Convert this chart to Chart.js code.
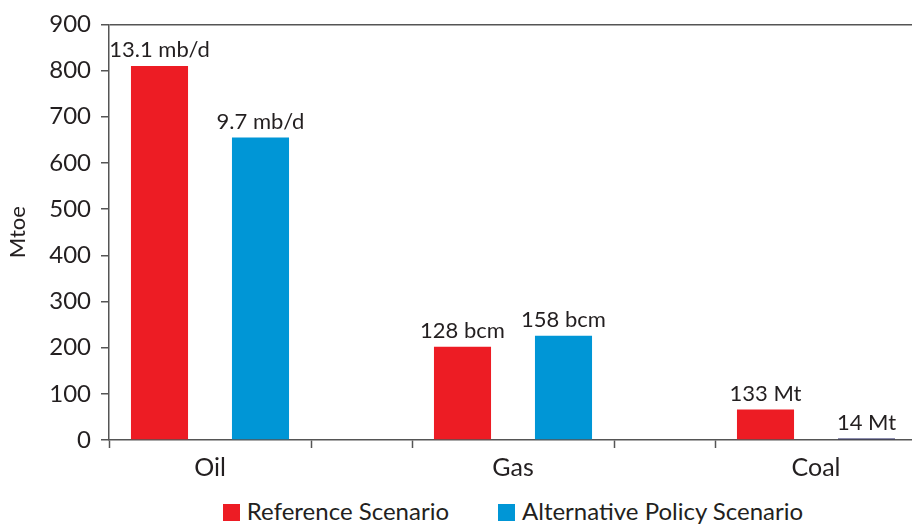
<!DOCTYPE html>
<html lang="en">
<head>
    <meta charset="UTF-8">
    <title>Oil, Gas and Coal Savings</title>
    <script src="https://cdn.jsdelivr.net/npm/chart.js"></script>
    <style>
        html, body { margin: 0; padding: 0; background: #ffffff; overflow: hidden; }
        body { font-family: Lato, "Open Sans", sans-serif; color: #231f20; }
        .wrap { position: relative; width: 920px; height: 525px; }
        .chart-box { position: relative; width: 920px; height: 488px; }
        .legend { position: absolute; left: 0; top: 497px; width: 1026px; display: flex; justify-content: center; gap: 49px; font-size: 24px; line-height: 28px; }
        .legend span.key { display: inline-block; width: 17px; height: 17px; margin-right: 7px; vertical-align: -1px; }
    </style>
</head>
<body>
<div class="wrap">
    <div class="chart-box"><canvas id="fuelChart"></canvas></div>
    <div class="legend" id="legend"></div>
</div>

<script>
    // fuels and Mtoe per scenario
    const fuels = ["Oil", "Gas", "Coal"];
    const referenceMtoe = [810, 202, 66];
    const alternativeMtoe = [655, 226, 3];
    // physical units written above the bars
    const referenceUnits = ["13.1 mb/d", "128 bcm", "133 Mt"];
    const alternativeUnits = ["9.7 mb/d", "158 bcm", "14 Mt"];
    const yTicks = [0, 100, 200, 300, 400, 500, 600, 700, 800, 900];

    const RED = "#ed1c24";
    const BLUE = "#0096d6";
    const AXIS = "#555555";
    const TEXT = "#231f20";

    // each fuel gets two slots (reference, alternative) plus an empty gap slot between fuels
    const slots = [];
    const refData = [], altData = [], refText = [], altText = [], altColors = [];
    fuels.forEach((f, i) => {
        slots.push("", f);
        refData.push(referenceMtoe[i], null);
        altData.push(null, alternativeMtoe[i]);
        refText.push(referenceUnits[i], null);
        altText.push(null, alternativeUnits[i]);
        altColors.push(BLUE, alternativeMtoe[i] < 5 ? "#1d1f5e" : BLUE);
        if (i < fuels.length - 1) {
            slots.push("");
            refData.push(null); altData.push(null);
            refText.push(null); altText.push(null);
            altColors.push(BLUE);
        }
    });
    const hiddenTickSlots = slots.map((s, i) => s !== "" ? i : -1).filter(i => i >= 0);

    const unitLabels = {
        id: "unitLabels",
        afterDatasetsDraw(chart) {
            const ctx = chart.ctx;
            const texts = [refText, altText];
            ctx.save();
            ctx.font = "22px Lato";
            ctx.fillStyle = TEXT;
            ctx.textAlign = "center";
            ctx.textBaseline = "bottom";
            chart.data.datasets.forEach((ds, d) => {
                chart.getDatasetMeta(d).data.forEach((bar, i) => {
                    if (ds.data[i] == null || !texts[d][i]) return;
                    ctx.fillText(texts[d][i], bar.x, bar.y - 5);
                });
            });
            ctx.restore();
        }
    };

    const chart = new Chart(document.getElementById("fuelChart"), {
        type: "bar",
        data: {
            labels: slots,
            datasets: [
                { label: "Reference Scenario", data: refData, backgroundColor: RED },
                { label: "Alternative Policy Scenario", data: altData, backgroundColor: altColors }
            ]
        },
        options: {
            responsive: true,
            maintainAspectRatio: false,
            animation: false,
            grouped: false,
            barPercentage: 0.565,
            categoryPercentage: 1,
            layout: { padding: { top: 24, right: 3, left: 0, bottom: 0 } },
            plugins: {
                legend: { display: false },
                tooltip: { enabled: false }
            },
            scales: {
                x: {
                    offset: true,
                    border: { display: true, color: AXIS, width: 1.5 },
                    grid: {
                        offset: true,
                        drawOnChartArea: false,
                        tickLength: 8,
                        tickWidth: 1.5,
                        tickColor: ctx => hiddenTickSlots.includes(ctx.index) ? "transparent" : AXIS
                    },
                    ticks: {
                        autoSkip: false,
                        maxRotation: 0,
                        padding: 5,
                        labelOffset: -50.5,
                        color: TEXT,
                        font: { family: "Lato", size: 25 }
                    }
                },
                y: {
                    min: 0,
                    max: 900,
                    afterBuildTicks: scale => { scale.ticks = yTicks.map(v => ({ value: v })); },
                    afterFit: scale => { scale.width = 109; },
                    border: { display: true, color: AXIS, width: 1.5 },
                    grid: {
                        drawOnChartArea: true,
                        tickLength: 8,
                        tickWidth: 1.5,
                        tickColor: AXIS,
                        lineWidth: 1.5,
                        color: ctx => ctx.tick && ctx.tick.value === 900 ? AXIS : "transparent"
                    },
                    ticks: {
                        padding: 10,
                        color: TEXT,
                        font: { family: "Lato", size: 24 }
                    },
                    title: {
                        display: true,
                        text: "Mtoe",
                        color: TEXT,
                        font: { family: "Lato", size: 22 },
                        padding: { top: 5, bottom: 0 }
                    }
                }
            }
        },
        plugins: [unitLabels]
    });

    // legend built from the dataset labels
    const legend = document.getElementById("legend");
    [RED, BLUE].forEach((color, i) => {
        const item = document.createElement("div");
        item.innerHTML = `<span class="key" style="background:${color}"></span>${chart.data.datasets[i].label}`;
        legend.appendChild(item);
    });
</script>
</body>
</html>
